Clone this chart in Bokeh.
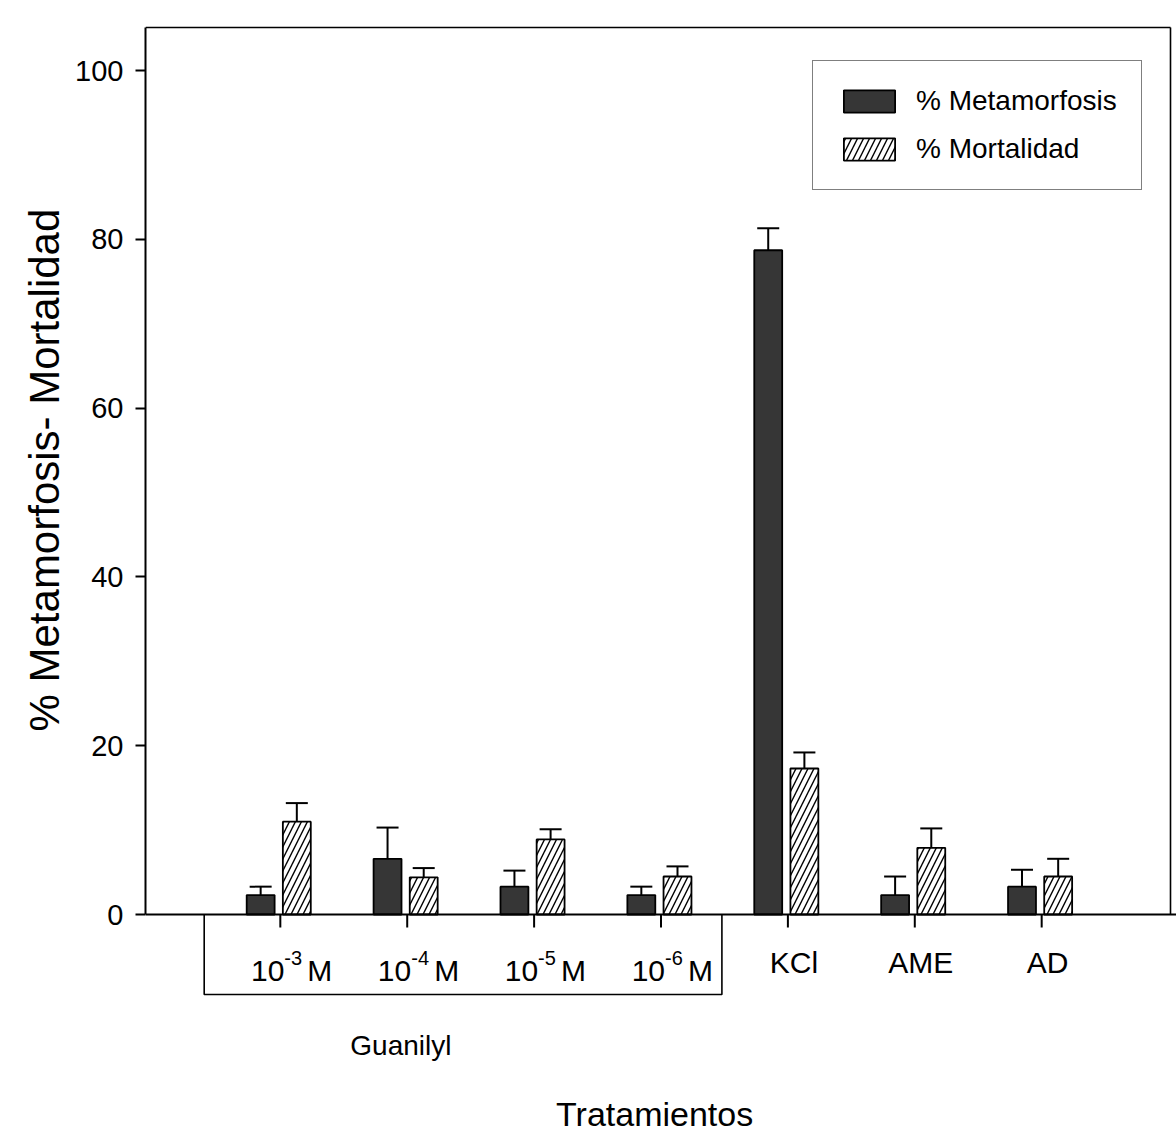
import math
from bokeh.plotting import figure
from bokeh.models import (ColumnDataSource, FactorRange, Range1d, Whisker, TeeHead,
                          Legend, LegendItem, Span, Title)
from bokeh.transform import dodge
from bokeh.core.properties import value
from bokeh.embed import file_html
from bokeh.resources import INLINE

# ---------------- data ----------------
categories = ["10^-3 M", "10^-4 M", "10^-5 M", "10^-6 M", "KCl", "AME", "AD"]
guanilyl_categories = ["10^-3 M", "10^-4 M", "10^-5 M", "10^-6 M"]
guanilyl_base = ["10", "10", "10", "10"]
guanilyl_exponents = ["-3", "-4", "-5", "-6"]
guanilyl_unit = ["M", "M", "M", "M"]
other_categories = ["KCl", "AME", "AD"]

metamorfosis = [2.3, 6.6, 3.3, 2.3, 78.7, 2.3, 3.3]
metamorfosis_err = [1.0, 3.7, 1.9, 1.0, 2.6, 2.2, 2.0]
mortalidad = [11.0, 4.4, 8.9, 4.5, 17.3, 7.9, 4.5]
mortalidad_err = [2.2, 1.1, 1.2, 1.2, 1.9, 2.3, 2.1]

y_ticks = [0, 20, 40, 60, 80, 100]
series_names = ["% Metamorfosis", "% Mortalidad"]
group_label = "Guanilyl"
x_title = "Tratamientos"
y_title = "% Metamorfosis- Mortalidad"

# ---------------- layout / style ----------------
FONT = "Liberation Sans"
W, H = 1176, 1135
LEFT = 145
PX = 8.44           # pixels per y unit
Y0 = 914            # pixel row of y = 0
Y_TOP = 105.1       # top of the plot box
PAD = 0.5625
n = len(categories)
wpx = (W - LEFT) / (n + 2 * PAD)

def ydat(py):
    return (Y0 - py) / PX

def ytxt(py, size):
    # alphabetic baseline placement compensation
    return ydat(py - 0.36 * size)

def xdat(px):
    return -PAD + (px - LEFT) / wpx

x_range = FactorRange(*categories, range_padding=PAD, range_padding_units="absolute")
y_range = Range1d(ydat(H), ydat(0))

p = figure(width=W, height=H, x_range=x_range, y_range=y_range,
           output_backend="svg", toolbar_location=None, x_axis_location=None,
           min_border_left=LEFT, min_border_right=0, min_border_top=0, min_border_bottom=0)
p.outline_line_color = None
p.grid.grid_line_color = None
p.background_fill_color = "white"
p.border_fill_color = "white"

yax = p.yaxis[0]
yax.ticker = y_ticks
yax.bounds = (0, Y_TOP)
yax.axis_line_width = 2
yax.major_tick_line_width = 2
yax.major_tick_out = 10
yax.major_tick_in = 0
yax.minor_tick_line_color = None
yax.major_label_standoff = 12
yax.major_label_text_font = FONT
yax.major_label_text_font_size = "29px"
yax.major_label_text_color = "black"

p.add_layout(Title(text=y_title, align="left", offset=H - 731,
                   text_font=FONT, text_font_size="42px", text_font_style="normal",
                   text_color="black", standoff=10), "left")

src = ColumnDataSource(dict(
    cat=categories,
    met=metamorfosis,
    met_top=[v + e for v, e in zip(metamorfosis, metamorfosis_err)],
    mor=mortalidad,
    mor_top=[v + e for v, e in zip(mortalidad, mortalidad_err)],
))

OFF_MET, OFF_MOR, BW = -0.155, 0.13, 0.22

r1 = p.vbar(x=dodge("cat", OFF_MET, range=p.x_range), top="met", width=BW, source=src,
            fill_color="#363636", line_color="black", line_width=1.8)
r2 = p.vbar(x=dodge("cat", OFF_MOR, range=p.x_range), top="mor", width=BW, source=src,
            fill_color="white", line_color="black", line_width=1.8,
            hatch_pattern="/", hatch_scale=12, hatch_weight=1.4, hatch_color="black")

for off, lo, hi in [(OFF_MET, "met", "met_top"), (OFF_MOR, "mor", "mor_top")]:
    wk = Whisker(base=dodge("cat", off, range=p.x_range), lower=lo, upper=hi, source=src,
                 line_width=2, line_color="black",
                 upper_head=TeeHead(size=22, line_width=2, line_color="black"),
                 lower_head=TeeHead(size=0, line_alpha=0))
    p.add_layout(wk)

# x axis line, ticks and the box frame
p.add_layout(Span(location=0, dimension="width", line_color="black", line_width=2))
tick_len = 13 / PX
p.segment(x0="cat", y0=0, x1="cat", y1=-tick_len, source=src, line_color="black", line_width=2)
x_right = xdat(1170)
p.line(x=[-PAD, x_right], y=[Y_TOP, Y_TOP], line_color="black", line_width=1.6)
p.line(x=[x_right, x_right], y=[0, Y_TOP], line_color="black", line_width=1.6)

# bracket around Guanilyl concentrations
g0 = categories.index(guanilyl_categories[0]) + 0.5
g1 = categories.index(guanilyl_categories[-1]) + 0.5
yb = ydat(994)
p.line(x=[g0 - 0.6, g0 - 0.6, g1 + 0.48, g1 + 0.48], y=[0, yb, yb, 0],
       line_color="black", line_width=1.6)

# tick labels
gsrc = ColumnDataSource(dict(cat=guanilyl_categories, base=guanilyl_base,
                             exp=guanilyl_exponents, unit=guanilyl_unit))
p.text(x="cat", y=ytxt(981, 30), text="base", source=gsrc, x_offset=4, text_align="right",
       text_baseline="alphabetic", text_font=value(FONT), text_font_size="30px", text_color="black")
p.text(x="cat", y=ytxt(965, 20), text="exp", source=gsrc, x_offset=4, text_align="left",
       text_baseline="alphabetic", text_font=value(FONT), text_font_size="20px", text_color="black")
p.text(x="cat", y=ytxt(981, 30), text="unit", source=gsrc, x_offset=27, text_align="left",
       text_baseline="alphabetic", text_font=value(FONT), text_font_size="30px", text_color="black")
osrc = ColumnDataSource(dict(cat=other_categories, lab=other_categories))
p.text(x="cat", y=ytxt(973, 30), text="lab", source=osrc, x_offset=6, text_align="center",
       text_baseline="alphabetic", text_font=value(FONT), text_font_size="30px", text_color="black")

p.text(x=[(g0 + g1) / 2 - 0.55], y=[ytxt(1055, 28)], text=[group_label], text_align="center",
       text_baseline="alphabetic", text_font=value(FONT), text_font_size="28px", text_color="black")
p.text(x=[n / 2 - 0.05], y=[ytxt(1126, 34)], text=[x_title], text_align="center",
       text_baseline="alphabetic", text_font=value(FONT), text_font_size="34px", text_color="black")

legend = Legend(items=[LegendItem(label=series_names[0], renderers=[r1]),
                       LegendItem(label=series_names[1], renderers=[r2])],
                location=(812 - LEFT, H - 190), orientation="vertical",
                glyph_width=64, glyph_height=28, label_height=32, label_standoff=15,
                spacing=16, padding=24, margin=0,
                border_line_color="black", border_line_width=1.6,
                label_text_font=FONT, label_text_font_size="28px", label_text_color="black",
                background_fill_color="white", background_fill_alpha=1)
p.add_layout(legend)

open("out.html", "w").write(file_html(p, INLINE))
